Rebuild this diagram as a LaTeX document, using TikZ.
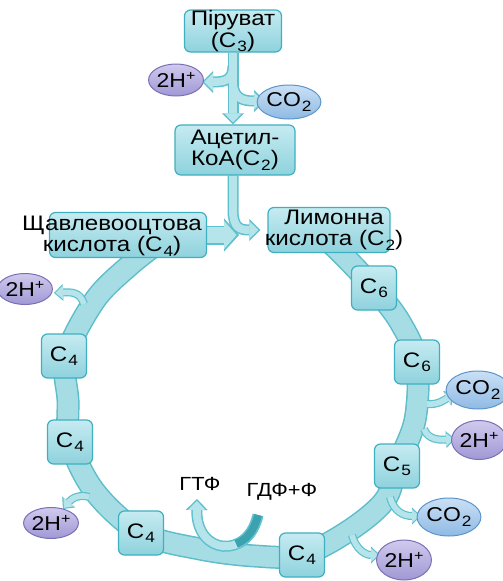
\documentclass[tikz,border=0pt]{standalone}
\usepackage{fontspec}
\setmainfont{Liberation Sans}[FakeStretch=1.15]
\usetikzlibrary{arrows.meta,shapes.geometric}
\definecolor{boxtop}{HTML}{C6EBF1}
\definecolor{boxbot}{HTML}{8ED2DD}
\definecolor{boxbrd}{HTML}{3FB0C0}
\definecolor{bandfill}{HTML}{A6DCE4}
\definecolor{bandbrd}{HTML}{5DBDCA}
\definecolor{arrfill}{HTML}{B6E4EB}
\definecolor{arrbrd}{HTML}{5FC0CD}
\definecolor{htop}{HTML}{D0CAEE}
\definecolor{hbot}{HTML}{A098D4}
\definecolor{hbrd}{HTML}{7B70B5}
\definecolor{cotop}{HTML}{CAE0F5}
\definecolor{cobot}{HTML}{8FBAE4}
\definecolor{cobrd}{HTML}{5C95CC}
\definecolor{gdark}{HTML}{3AA3AF}
\pgfdeclarelayer{band}
\pgfdeclarelayer{aout}
\pgfdeclarelayer{ain}
\pgfsetlayers{band,aout,ain,main}
\newcommand\bigf{\fontsize{21}{21.5}\selectfont}
\newcommand\midf{\fontsize{20}{21}\selectfont}
\newcommand\smf{\fontsize{19}{20}\selectfont}
\newcommand\sbs[1]{\kern1pt\raisebox{-4.5pt}{\fontsize{15}{15}\selectfont #1}}
\newcommand\sps[1]{\raisebox{7pt}{\fontsize{14}{14}\selectfont #1}}
\tikzset{
  box/.style={draw=boxbrd, line width=1.2pt, rounded corners=6pt, top color=boxtop, bottom color=boxbot, align=center, inner sep=0pt, font=\bigf},
  sbox/.style={box, minimum width=45pt, minimum height=44pt},
  plainlbl/.style={align=center, inner sep=0pt, font=\bigf},
  hell/.style={ellipse, draw=hbrd, line width=1pt, top color=htop, bottom color=hbot, inner sep=0pt, font=\midf},
  coell/.style={ellipse, draw=cobrd, line width=1pt, top color=cotop, bottom color=cobot, inner sep=0pt, font=\midf},
  bout/.style={line width=11pt, draw=arrbrd, -{Triangle[width=22pt,length=11pt,line width=0pt]}},
  bin/.style={line width=8pt, draw=arrfill, -{Triangle[width=17.5pt,length=9pt,line width=0pt]}, shorten >=2pt},
  oxout/.style={line width=19pt, draw=arrbrd, -{Triangle[width=33pt,length=15pt,line width=0pt]}},
  oxin/.style={line width=16pt, draw=arrfill, -{Triangle[width=28pt,length=12.5pt,line width=0pt]}, shorten >=2.5pt},
  sout/.style={line width=8pt, draw=arrbrd, -{Triangle[width=17pt,length=9pt,line width=0pt]}},
  sin/.style={line width=5.6pt, draw=arrfill, -{Triangle[width=13.5pt,length=7.5pt,line width=0pt]}, shorten >=1.5pt},
  gin/.style={line width=8pt, draw=gdark}
}
\begin{document}
\begin{tikzpicture}[x=1pt,y=-1pt]
\useasboundingbox (0,0) rectangle (503,581);
% nodes
\node[box, minimum width=97pt, minimum height=42pt] (pir) at (233,31) {Піруват\\(C\sbs{3})};
\node[box, minimum width=120pt, minimum height=50pt] (acet) at (235,150) {Ацетил-\\КоА(C\sbs{2})};
\node[box, minimum width=157pt, minimum height=45pt] (oxbox) at (128,235) {};
\node[plainlbl] (oxtext) at (112,236) {Щавлевооцтова\\кислота (C\sbs{4})};
\node[box, minimum width=122pt, minimum height=45pt] (citbox) at (329,230) {};
\node[plainlbl] (cittext) at (334,230) {Лимонна\\кислота (C\sbs{2})};
\node[sbox] (c6a) at (374,288) {C\sbs{6}};
\node[sbox] (c6b) at (417,362) {C\sbs{6}};
\node[sbox] (c5) at (397,466) {C\sbs{5}};
\node[sbox] (c4a) at (302,555) {C\sbs{4}};
\node[sbox] (c4b) at (141,533) {C\sbs{4}};
\node[sbox] (c4c) at (70,442) {C\sbs{4}};
\node[sbox] (c4d) at (64,356) {C\sbs{4}};
\node[hell, minimum width=47pt, minimum height=32pt] (h1) at (176,80) {2H\sps{+}};
\node[coell, minimum width=44pt, minimum height=34pt] (co1) at (289,102) {CO\sbs{2}};
\node[hell, minimum width=46pt, minimum height=31pt] (h2) at (25,289) {2H\sps{+}};
\node[hell, minimum width=47pt, minimum height=31pt] (h3) at (51,523) {2H\sps{+}};
\node[coell, minimum width=46pt, minimum height=38pt] (co2) at (478,390) {CO\sbs{2}};
\node[hell, minimum width=44pt, minimum height=39pt] (h4) at (479,440) {2H\sps{+}};
\node[coell, minimum width=45pt, minimum height=38pt] (co3) at (449,517) {CO\sbs{2}};
\node[hell, minimum width=46pt, minimum height=40pt] (h5) at (404,560) {2H\sps{+}};
\node[font=\smf, inner sep=0pt] (gtp) at (200,484) {ГТФ};
\node[font=\smf, inner sep=0pt] (gdp) at (282,492) {ГДФ+Ф};
% coordinates
\coordinate (b1) at (233,66);
\coordinate (t1) at (202,82);
\coordinate (b2) at (233,84);
\coordinate (t2) at (265,101);
\coordinate (k1) at (233,210);
\coordinate (s1) at (84,304);  \coordinate (e1) at (54,293);
\coordinate (s2) at (89,497);  \coordinate (e2) at (63,509);
\coordinate (s3) at (427,404); \coordinate (e3) at (455,394);
\coordinate (s4) at (424,429); \coordinate (e4) at (455,439);
\coordinate (s5) at (390,497); \coordinate (e5) at (421,516);
\coordinate (s6) at (352,535); \coordinate (e6) at (380,555);
\coordinate (g0) at (258,515);
\coordinate (gm) at (236.15,543.88);
\coordinate (g1) at (197,499);
% band
\def\bandpts{(162,240) (130,265) (95,300) (66,356) (68,400) (70,442) (95,492) (141,533) (200,549) (255,556) (302,555) (350,530) (385,500) (397,466) (415,420) (417,362) (400,322) (374,288) (340,252) (322,236)}
\begin{pgfonlayer}{band}
\fill[white] (0,0) rectangle (503,581);
\draw[line width=23pt, bandbrd] plot[smooth, tension=0.55] coordinates {\bandpts};
\draw[line width=20pt, bandfill] plot[smooth, tension=0.55] coordinates {\bandpts};
\end{pgfonlayer}
% arrow outlines
\begin{pgfonlayer}{aout}
\draw[bout] (pir.south) -- (pir.south |- acet.north);
\draw[bout] (b1) .. controls (233,80) and (225,82) .. (t1);
\draw[bout] (b2) .. controls (234,99) and (244,101) .. (t2);
\draw[bout] (acet.south -| k1) -- (k1) .. controls (233,228) and (240,230) .. ([xshift=-7pt]citbox.west);
\draw[oxout] (oxbox.east) -- ++(32,0);
\draw[sout] (s1) .. controls (80,292) and (72,292) .. (e1);
\draw[sout] (s2) .. controls (80,494) and (72,498) .. (e2);
\draw[sout] (s3) .. controls (438,405) and (444,400) .. (e3);
\draw[sout] (s4) .. controls (428,440) and (440,440) .. (e4);
\draw[sout] (s5) .. controls (394,512) and (404,516) .. (e5);
\draw[sout] (s6) .. controls (356,550) and (366,555) .. (e6);
\draw[bout] (g0) .. controls (248,560) and (196,555) .. (g1);
\end{pgfonlayer}
% arrow fills
\begin{pgfonlayer}{ain}
\draw[bin] (pir.south) -- (pir.south |- acet.north);
\draw[bin] (b1) .. controls (233,80) and (225,82) .. (t1);
\draw[bin] (b2) .. controls (234,99) and (244,101) .. (t2);
\draw[bin] (acet.south -| k1) -- (k1) .. controls (233,228) and (240,230) .. ([xshift=-7pt]citbox.west);
\draw[oxin] (oxbox.east) -- ++(32,0);
\draw[sin] (s1) .. controls (80,292) and (72,292) .. (e1);
\draw[sin] (s2) .. controls (80,494) and (72,498) .. (e2);
\draw[sin] (s3) .. controls (438,405) and (444,400) .. (e3);
\draw[sin] (s4) .. controls (428,440) and (440,440) .. (e4);
\draw[sin] (s5) .. controls (394,512) and (404,516) .. (e5);
\draw[sin] (s6) .. controls (356,550) and (366,555) .. (e6);
\draw[bin] (g0) .. controls (248,560) and (196,555) .. (g1);
\draw[gin] (g0) .. controls (254.5,530.75) and (245.86,540.38) .. (gm);
\end{pgfonlayer}
\end{tikzpicture}
\end{document}
